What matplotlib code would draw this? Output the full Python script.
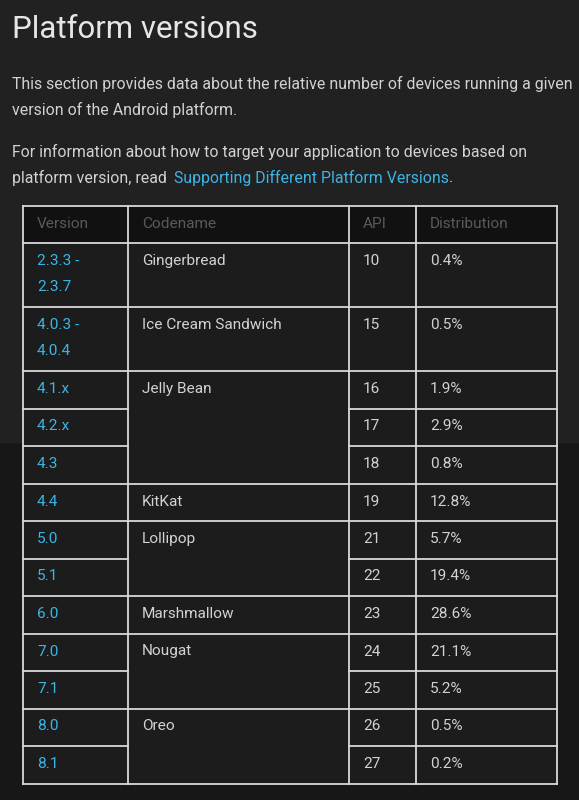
import matplotlib
matplotlib.use("Agg")
import matplotlib.pyplot as plt
from matplotlib.patches import Rectangle

versions = ["2.3.3 -\n2.3.7", "4.0.3 -\n4.0.4", "4.1.x", "4.2.x", "4.3", "4.4", "5.0", "5.1",
            "6.0", "7.0", "7.1", "8.0", "8.1"]
apis = ["10", "15", "16", "17", "18", "19", "21", "22", "23", "24", "25", "26", "27"]
distribution = ["0.4%", "0.5%", "1.9%", "2.9%", "0.8%", "12.8%", "5.7%", "19.4%", "28.6%",
                "21.1%", "5.2%", "0.5%", "0.2%"]
codenames = ["Gingerbread", "Ice Cream Sandwich", "Jelly Bean", "KitKat", "Lollipop",
             "Marshmallow", "Nougat", "Oreo"]
codename_rows = [1, 1, 3, 1, 2, 1, 2, 2]
headers = ["Version", "Codename", "API", "Distribution"]

plt.rcParams['font.family'] = ['Roboto', 'DejaVu Sans']
fig = plt.figure(figsize=(5.79, 8.0), dpi=100)
fig.patch.set_facecolor("#171717")
ax = fig.add_axes([0, 0, 1, 1])
ax.set_xlim(0, 579); ax.set_ylim(800, 0); ax.axis("off")
ax.add_patch(Rectangle((0, 0), 579, 442, color="#212121", zorder=0))

txt = "#d2d2d2"
link = "#3db4e4"
bfs = 11.4
ax.text(12, 30, "Platform versions", fontsize=22.5, color="#e6e6e6", va="center")
ax.text(12, 84, "This section provides data about the relative number of devices running a given",
        fontsize=bfs, color=txt, va="center")
ax.text(12, 110, "version of the Android platform.", fontsize=bfs, color=txt, va="center")
ax.text(12, 152, "For information about how to target your application to devices based on",
        fontsize=bfs, color=txt, va="center")
t1 = ax.text(12, 178, "platform version, read ", fontsize=bfs, color=txt, va="center")
fig.canvas.draw()
r = fig.canvas.get_renderer()
x2 = ax.transData.inverted().transform(t1.get_window_extent(r))[1][0] + 3
t2 = ax.text(x2, 178, "Supporting Different Platform Versions", fontsize=bfs, color=link, va="center")
x3 = ax.transData.inverted().transform(t2.get_window_extent(r))[1][0]
ax.text(x3, 178, ".", fontsize=bfs, color=txt, va="center")

cols = [23, 128, 349, 416, 557]
top, head_bot = 206, 243
row_h = [64, 64] + [37.5] * 11
ys = [head_bot]
for h in row_h:
    ys.append(ys[-1] + h)

lc = "#d8d8d8"
lw = 1.3
ax.add_patch(Rectangle((cols[0], top), cols[-1] - cols[0], head_bot - top, color="#111111", zorder=1))
ax.add_patch(Rectangle((cols[0], head_bot), cols[-1] - cols[0], ys[-1] - head_bot, color="#1c1c1c", zorder=1))
fs = 11.1
for i, h in enumerate(headers):
    ax.text(cols[i] + 14, (top + head_bot) / 2, h, fontsize=fs, color="#5a5a5a", va="center")

for i in range(len(versions)):
    y0 = ys[i]
    lines = versions[i].split("\n")
    for j, l in enumerate(lines):
        ax.text(cols[0] + 14, y0 + 18 + 26 * j, l, fontsize=fs, color=link, va="center")
    ax.text(cols[2] + 14, y0 + 18, apis[i], fontsize=fs, color=txt, va="center")
    ax.text(cols[3] + 14, y0 + 18, distribution[i], fontsize=fs, color=txt, va="center")
    ax.plot([cols[0], cols[1]], [ys[i + 1]] * 2, color=lc, lw=lw, zorder=3)
    ax.plot([cols[2], cols[4]], [ys[i + 1]] * 2, color=lc, lw=lw, zorder=3)

k = 0
for name, n in zip(codenames, codename_rows):
    ax.text(cols[1] + 14, ys[k] + 18, name, fontsize=fs, color=txt, va="center")
    k += n
    ax.plot([cols[1], cols[2]], [ys[k]] * 2, color=lc, lw=lw, zorder=3)

ax.plot([cols[0], cols[-1]], [top, top], color=lc, lw=lw, zorder=3)
ax.plot([cols[0], cols[-1]], [head_bot, head_bot], color=lc, lw=lw, zorder=3)
for x in cols:
    ax.plot([x, x], [top, ys[-1]], color=lc, lw=lw, zorder=3)

fig.savefig("out.png", dpi=100, facecolor=fig.get_facecolor())
